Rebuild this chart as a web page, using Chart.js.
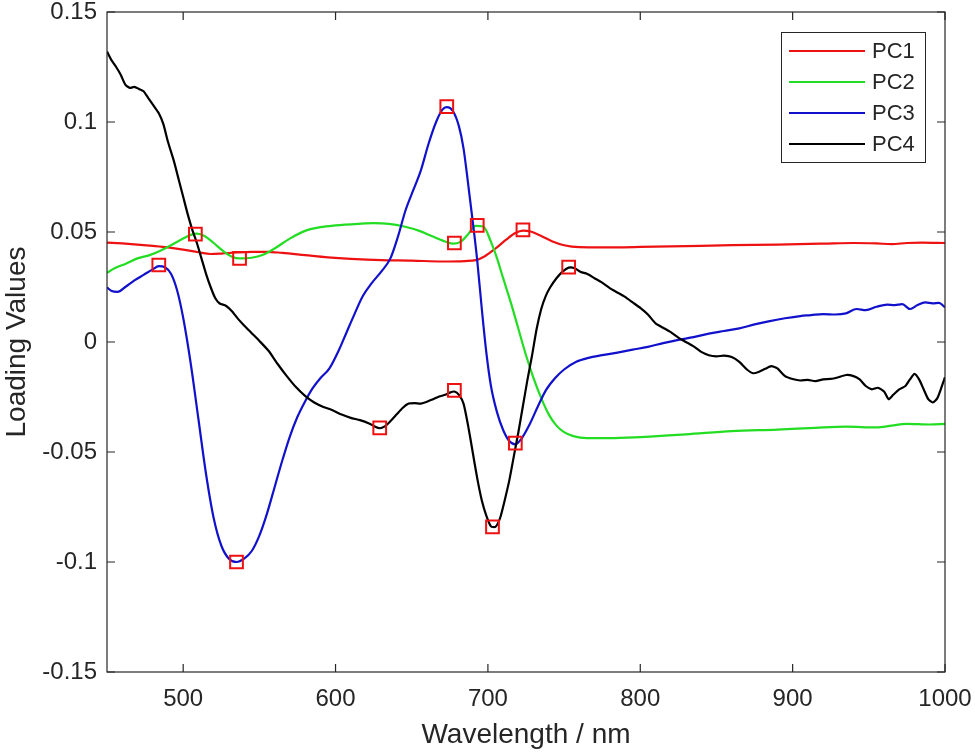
<!DOCTYPE html>
<html>
<head>
    <script src="https://cdn.jsdelivr.net/npm/chart.js@4.4.0/dist/chart.umd.min.js"></script>
    <style>
        body { margin: 0; background: #fff; }
    </style>
</head>
<body>
    <canvas id="grafico" width="975" height="755"></canvas>

    <script>
        // valori (lunghezza d'onda in nm, loading)
        const pc1Wl  = [450,460,470,480,490,500,510,518,525,535,545,555,565,580,595,610,630,650,670,685,692,698,705,712,718,723,728,735,742,750,760,775,800,830,860,890,920,940,955,965,975,985,1000];
        const pc1Val = [0.0452,0.0448,0.0443,0.0437,0.0430,0.0420,0.0408,0.0400,0.0402,0.0407,0.0410,0.0410,0.0405,0.0395,0.0385,0.0378,0.0372,0.0370,0.0366,0.0368,0.0372,0.0390,0.0425,0.0465,0.0495,0.0506,0.0502,0.0482,0.0458,0.0440,0.0431,0.0430,0.0432,0.0436,0.0440,0.0443,0.0447,0.0450,0.0448,0.0445,0.0450,0.0452,0.0450];

        const pc2Wl  = [450,455,462,470,478,485,492,500,505,509,514,520,526,532,537,545,552,560,570,580,590,600,615,625,635,645,655,663,670,677,682,687,692,697,702,706,710,715,720,725,730,735,740,745,750,756,765,780,800,830,860,890,915,935,955,965,975,990,1000];
        const pc2Val = [0.0315,0.0335,0.0355,0.0380,0.0395,0.0415,0.0440,0.0470,0.0487,0.0493,0.0482,0.0450,0.0415,0.0388,0.0380,0.0383,0.0395,0.0425,0.0470,0.0505,0.0522,0.0530,0.0537,0.0540,0.0537,0.0525,0.0505,0.0482,0.0462,0.0447,0.0455,0.0490,0.0528,0.0525,0.0455,0.0380,0.0290,0.0180,0.0060,-0.0060,-0.0165,-0.0255,-0.0330,-0.0380,-0.0410,-0.0428,-0.0437,-0.0437,-0.0432,-0.0420,-0.0405,-0.0398,-0.0390,-0.0385,-0.0388,-0.0380,-0.0372,-0.0375,-0.0372];

        const pc3Wl  = [450,453,457,462,468,474,480,484,488,492,496,500,505,510,515,520,525,530,535,540,545,550,555,560,565,570,575,580,585,590,596,602,607,612,618,624,630,636,641,646,651,656,661,666,670,673,677,681,684,687,690,693,696,699,702,706,710,714,718,722,727,733,738,744,750,758,766,775,785,795,805,815,825,835,845,855,865,875,885,895,905,912,920,928,935,942,948,955,962,967,972,977,982,987,992,996,1000];
        const pc3Val = [0.0248,0.0232,0.0228,0.0250,0.0280,0.0305,0.0330,0.0345,0.0340,0.0310,0.0235,0.0110,-0.0100,-0.0350,-0.0600,-0.0800,-0.0925,-0.0985,-0.1000,-0.0985,-0.0950,-0.0880,-0.0780,-0.0660,-0.0540,-0.0430,-0.0340,-0.0270,-0.0210,-0.0165,-0.0120,-0.0040,0.0040,0.0120,0.0210,0.0270,0.0320,0.0380,0.0480,0.0600,0.0690,0.0780,0.0900,0.1000,0.1055,0.1068,0.1050,0.0980,0.0880,0.0720,0.0550,0.0370,0.0150,-0.0050,-0.0200,-0.0320,-0.0400,-0.0450,-0.0465,-0.0440,-0.0380,-0.0290,-0.0220,-0.0165,-0.0125,-0.0090,-0.0072,-0.0060,-0.0048,-0.0035,-0.0022,-0.0005,0.0010,0.0022,0.0038,0.0050,0.0062,0.0080,0.0095,0.0108,0.0118,0.0122,0.0127,0.0125,0.0130,0.0150,0.0145,0.0160,0.0170,0.0168,0.0172,0.0150,0.0168,0.0180,0.0176,0.0178,0.0158];

        const pc4Wl  = [450,453,456,459,462,465,468,471,474,477,480,484,487,490,494,497,500,503,506,509,512,515,518,521,524,528,532,536,540,545,550,556,562,568,574,580,586,592,598,604,610,616,622,626,629,632,636,640,644,648,652,656,660,664,668,672,675,678,681,684,687,690,693,696,699,702,705,708,711,714,717,720,723,726,729,732,735,738,741,745,749,753,757,761,765,770,775,780,785,790,795,800,805,810,815,820,825,830,835,840,845,850,855,860,865,870,874,878,882,886,890,895,900,905,910,915,920,925,930,935,940,944,948,952,956,960,963,966,970,974,977,980,983,986,989,992,995,998,1000];
        const pc4Val = [0.1320,0.1280,0.1250,0.1215,0.1170,0.1155,0.1160,0.1150,0.1140,0.1110,0.1080,0.1040,0.0990,0.0910,0.0820,0.0740,0.0660,0.0580,0.0510,0.0450,0.0380,0.0310,0.0250,0.0200,0.0175,0.0165,0.0140,0.0105,0.0075,0.0040,0.0005,-0.0040,-0.0100,-0.0155,-0.0205,-0.0245,-0.0275,-0.0295,-0.0310,-0.0330,-0.0345,-0.0355,-0.0370,-0.0385,-0.0392,-0.0385,-0.0360,-0.0330,-0.0300,-0.0280,-0.0278,-0.0280,-0.0272,-0.0260,-0.0248,-0.0240,-0.0230,-0.0225,-0.0240,-0.0280,-0.0380,-0.0500,-0.0620,-0.0720,-0.0790,-0.0838,-0.0840,-0.0800,-0.0720,-0.0630,-0.0520,-0.0410,-0.0290,-0.0170,-0.0060,0.0060,0.0150,0.0210,0.0250,0.0290,0.0320,0.0338,0.0335,0.0318,0.0310,0.0290,0.0270,0.0245,0.0225,0.0205,0.0180,0.0155,0.0125,0.0085,0.0065,0.0045,0.0020,0.0000,-0.0020,-0.0045,-0.0060,-0.0065,-0.0062,-0.0068,-0.0090,-0.0125,-0.0142,-0.0135,-0.0122,-0.0110,-0.0120,-0.0155,-0.0168,-0.0175,-0.0172,-0.0178,-0.0170,-0.0168,-0.0160,-0.0150,-0.0155,-0.0170,-0.0200,-0.0215,-0.0208,-0.0225,-0.0260,-0.0240,-0.0215,-0.0200,-0.0170,-0.0145,-0.0170,-0.0215,-0.0260,-0.0275,-0.0255,-0.0200,-0.0160];

        // quadratini rossi sui picchi
        const markerWl  = [484,508,535,537,629,673,678,678,693,703,718,723,753];
        const markerVal = [0.035,0.049,-0.100,0.038,-0.039,0.107,0.045,-0.022,0.053,-0.084,-0.046,0.051,0.034];

        const seriesNames  = ['PC1','PC2','PC3','PC4'];
        const seriesColors = ['#ee1111','#22dd22','#1111cc','#000000'];
        const xTicks = [500,600,700,800,900,1000];
        const yTicks = [-0.15,-0.1,-0.05,0,0.05,0.1,0.15];

        const FONT = '"Liberation Sans", Arial, Helvetica, sans-serif';
        const AXIS = '#262626';

        function punti(wl, val) {
            return wl.map((w, i) => ({x: w, y: val[i]}));
        }

        // box, tacche interne e legenda in stile matlab
        const assi = {
            id: 'assi',
            afterDraw(chart) {
                const ctx = chart.ctx;
                const a = chart.chartArea;
                const sx = chart.scales.x, sy = chart.scales.y;
                const tl = 8;
                ctx.save();
                ctx.strokeStyle = AXIS;
                ctx.lineWidth = 1.2;
                ctx.strokeRect(a.left, a.top, a.right - a.left, a.bottom - a.top);
                ctx.beginPath();
                xTicks.forEach(v => {
                    const px = sx.getPixelForValue(v);
                    ctx.moveTo(px, a.bottom); ctx.lineTo(px, a.bottom - tl);
                    ctx.moveTo(px, a.top); ctx.lineTo(px, a.top + tl);
                });
                yTicks.forEach(v => {
                    const py = sy.getPixelForValue(v);
                    ctx.moveTo(a.left, py); ctx.lineTo(a.left + tl, py);
                    ctx.moveTo(a.right, py); ctx.lineTo(a.right - tl, py);
                });
                ctx.stroke();

                // legenda
                const lx = 781, ly = 32, lw = 144, lh = 130;
                ctx.fillStyle = '#fff';
                ctx.fillRect(lx, ly, lw, lh);
                ctx.lineWidth = 1;
                ctx.strokeStyle = AXIS;
                ctx.strokeRect(lx + 0.5, ly + 0.5, lw, lh);
                ctx.font = '22px ' + FONT;
                ctx.textBaseline = 'middle';
                ctx.textAlign = 'left';
                seriesNames.forEach((n, i) => {
                    const yy = ly + 19 + i * 31;
                    ctx.strokeStyle = seriesColors[i];
                    ctx.lineWidth = 2.2;
                    ctx.beginPath();
                    ctx.moveTo(lx + 8, yy); ctx.lineTo(lx + 84, yy);
                    ctx.stroke();
                    ctx.fillStyle = AXIS;
                    ctx.fillText(n, lx + 91, yy + 1);
                });
                ctx.restore();
            }
        };

        const dati = [[pc1Wl, pc1Val], [pc2Wl, pc2Val], [pc3Wl, pc3Val], [pc4Wl, pc4Val]];
        const datasets = [{
            type: 'scatter',
            label: 'picchi',
            data: punti(markerWl, markerVal),
            showLine: false,
            pointStyle: 'rect',
            pointRadius: 9,
            borderWidth: 2,
            borderColor: '#ee1111',
            backgroundColor: 'rgba(0,0,0,0)',
            order: 0
        }];
        dati.forEach((d, i) => {
            datasets.push({
                label: seriesNames[i],
                data: punti(d[0], d[1]),
                borderColor: seriesColors[i],
                borderWidth: 2.2,
                pointRadius: 0,
                cubicInterpolationMode: i === 3 ? 'default' : 'monotone',
                tension: i === 3 ? 0.2 : 0,
                fill: false,
                order: 5 - i
            });
        });

        const ctx = document.getElementById('grafico').getContext('2d');
        const grafico = new Chart(ctx, {
            type: 'line',
            data: {datasets: datasets},
            plugins: [assi],
            options: {
                responsive: false,
                animation: false,
                events: [],
                devicePixelRatio: 1,
                layout: {padding: {top: 12, right: 30, left: 0, bottom: 0}, autoPadding: false},
                plugins: {legend: {display: false}, tooltip: {enabled: false}},
                scales: {
                    x: {
                        type: 'linear',
                        min: 450, max: 1000,
                        afterBuildTicks: s => { s.ticks = xTicks.map(v => ({value: v})); },
                        afterFit: s => {
                            s.height = 83;
                            s.paddingLeft = 0; s.paddingRight = 0;
                        },
                        grid: {display: false, drawTicks: false},
                        border: {display: false},
                        ticks: {
                            autoSkip: false, maxRotation: 0, padding: 13,
                            color: AXIS, font: {family: FONT, size: 24},
                            callback: v => String(v)
                        },
                        title: {
                            display: true, text: 'Wavelength / nm', color: AXIS,
                            font: {family: FONT, size: 28}, padding: {top: 0, bottom: 3}
                        }
                    },
                    y: {
                        min: -0.15, max: 0.15,
                        afterBuildTicks: s => { s.ticks = yTicks.map(v => ({value: v})); },
                        afterFit: s => {
                            s.width = 107;
                            s.paddingTop = 0; s.paddingBottom = 0;
                        },
                        grid: {display: false, drawTicks: false},
                        border: {display: false},
                        ticks: {
                            padding: 10,
                            color: AXIS, font: {family: FONT, size: 24},
                            callback: v => String(v)
                        },
                        title: {
                            display: true, text: 'Loading Values', color: AXIS,
                            font: {family: FONT, size: 28}, padding: {top: 0, bottom: 0}
                        }
                    }
                }
            }
        });
    </script>
</body>
</html>
